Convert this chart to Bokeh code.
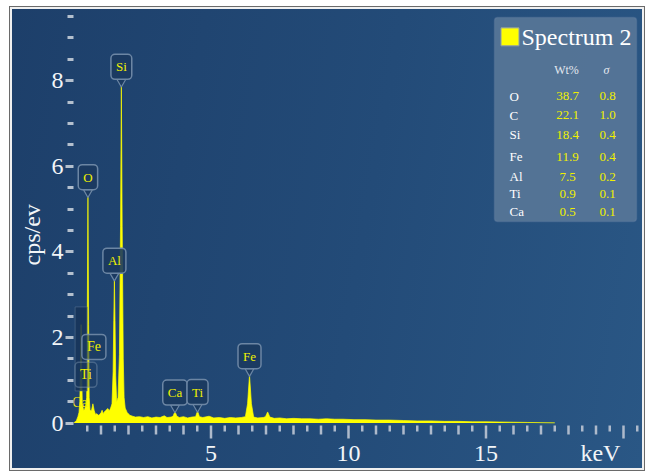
import numpy as np
from bokeh.plotting import figure
from bokeh.models import FixedTicker, BoxAnnotation, Range1d, Title
from bokeh.core.properties import value
from bokeh.embed import file_html
from bokeh.resources import INLINE

# ---------------- data ----------------
energy_kev = [0.00, 0.10, 0.16, 0.20, 0.23, 0.25, 0.277, 0.30, 0.32, 0.341, 0.37, 0.40,
              0.452, 0.48, 0.50, 0.525, 0.55, 0.57, 0.60, 0.65, 0.705, 0.75, 0.80, 0.85,
              0.90, 0.95, 1.00, 1.04, 1.08, 1.12, 1.18, 1.25, 1.30, 1.35, 1.40, 1.44,
              1.465, 1.487, 1.51, 1.535, 1.57, 1.62, 1.67, 1.71, 1.74, 1.77, 1.81, 1.84,
              1.88, 1.95, 2.05, 2.15, 2.25, 2.40, 2.55, 2.70, 2.85, 3.00, 3.15, 3.30,
              3.40, 3.55, 3.62, 3.69, 3.76, 3.85, 4.00, 4.15, 4.30, 4.44, 4.51, 4.58,
              4.70, 4.93, 5.10, 5.30, 5.50, 5.70, 5.90, 6.10, 6.25, 6.33, 6.40, 6.47,
              6.55, 6.70, 6.90, 6.98, 7.06, 7.14, 7.30, 7.50, 7.75, 8.00, 8.30, 8.60,
              8.90, 9.20, 9.50, 9.80, 10.20, 10.60, 11.00, 11.50, 12.00, 12.50, 13.00,
              13.50, 14.00, 14.50, 15.00, 15.50, 16.00, 16.50, 17.00, 17.50]
counts_cps_ev = [0.00, 0.05, 0.15, 0.25, 0.50, 1.20, 2.30, 1.10, 0.45, 0.38, 0.30, 0.32,
                 0.42, 0.60, 2.40, 5.30, 2.30, 0.60, 0.30, 0.28, 0.45, 0.30, 0.20, 0.22,
                 0.18, 0.20, 0.24, 0.30, 0.22, 0.26, 0.30, 0.34, 0.28, 0.35, 0.45, 1.20,
                 2.40, 3.35, 2.40, 1.10, 0.50, 0.60, 1.60, 4.60, 7.88, 4.60, 1.50, 0.60,
                 0.35, 0.25, 0.18, 0.16, 0.14, 0.15, 0.13, 0.15, 0.12, 0.14, 0.13, 0.17,
                 0.13, 0.14, 0.16, 0.27, 0.16, 0.13, 0.15, 0.12, 0.14, 0.15, 0.28, 0.15,
                 0.13, 0.16, 0.12, 0.13, 0.11, 0.13, 0.12, 0.13, 0.15, 0.45, 1.12, 0.45,
                 0.14, 0.12, 0.13, 0.15, 0.26, 0.14, 0.11, 0.12, 0.10, 0.11, 0.10, 0.10,
                 0.09, 0.10, 0.09, 0.09, 0.08, 0.08, 0.07, 0.07, 0.06, 0.05, 0.05,
                 0.04, 0.04, 0.03, 0.03, 0.025, 0.02, 0.015, 0.01, 0.005]

peak_names = ["O", "Si", "Al", "Ca", "Ti", "Fe"]
peak_energy = [0.525, 1.740, 1.487, 3.690, 4.510, 6.400]
peak_height = [5.30, 7.88, 3.35, 0.27, 0.28, 1.12]

l_names = ["Fe", "Ti", "Ca"]
l_energy = [0.705, 0.452, 0.341]
c_energy = 0.277

comp_elements = ["O", "C", "Si", "Fe", "Al", "Ti", "Ca"]
comp_wt = ["38.7", "22.1", "18.4", "11.9", "7.5", "0.9", "0.5"]
comp_sigma = ["0.8", "1.0", "0.4", "0.4", "0.2", "0.1", "0.1"]

y_major = [0, 2, 4, 6, 8]
x_labelled = [5, 10, 15]
x_unit_label = "keV"

# ---------------- layout helpers (page pixels -> data) ----------------
def dx(px):
    return (px - 73.0) / 27.5

def dy(py):
    return (424.5 - py) / 43.0

SERIF = "Liberation Serif"
TICK_COLOR = "#aebacb"

p = figure(width=630, height=459, output_backend="svg", toolbar_location=None,
           x_range=Range1d(0, dx(642)), y_range=Range1d(dy(441), dy(9)),
           min_border_left=61, min_border_right=0, min_border_top=0, min_border_bottom=27)
p.margin = (9, 0, 0, 12)
p.border_fill_color = None
p.background_fill_color = None
p.outline_line_color = None
p.grid.visible = False
p.styles = {
    "background": "linear-gradient(100deg, #1d3f6a 0%, #234b78 55%, #2a5785 100%)",
    "box-shadow": "0 0 0 2px #f0f0f0, 0 0 0 3px #6a6a6a",
}

# x axis: labels only (tick marks drawn below)
key_pos = round(dx(600), 2)
xa = p.xaxis[0]
xa.ticker = FixedTicker(ticks=x_labelled + [key_pos], minor_ticks=[])
xa.major_label_overrides = {key_pos: x_unit_label}
xa.axis_line_color = None
xa.major_tick_in = 0
xa.major_tick_out = 0
xa.minor_tick_in = 0
xa.minor_tick_out = 0
xa.major_label_standoff = 0
xa.major_label_text_font = SERIF
xa.major_label_text_font_size = "24px"
xa.major_label_text_color = "#f2f5f8"

# x tick marks: half steps short, integers medium, multiples of 5 long
half_ticks = list(np.arange(0.5, 20.6, 1.0))
int_ticks = [v for v in range(1, 21) if v % 5 != 0]
five_ticks = [5, 10, 15, 20]
for ticks, length in ((half_ticks, 6), (int_ticks, 9), (five_ticks, 13)):
    p.segment(x0=ticks, x1=ticks, y0=dy(427), y1=dy(427 + length),
              line_color=TICK_COLOR, line_width=2.5)

ya = p.yaxis[0]
ya.ticker = FixedTicker(ticks=y_major,
                        minor_ticks=[v for v in np.arange(0.5, 9.6, 0.5) if v not in y_major])
ya.axis_line_color = None
ya.major_tick_in = 0
ya.major_tick_out = 8
ya.minor_tick_in = 0
ya.minor_tick_out = 6
ya.major_tick_line_color = "#b4c0ce"
ya.minor_tick_line_color = "#b4c0ce"
ya.major_tick_line_width = 3
ya.minor_tick_line_width = 3
ya.major_label_standoff = 2
ya.major_label_text_font = SERIF
ya.major_label_text_font_size = "24px"
ya.major_label_text_color = "#f2f5f8"

p.add_layout(Title(text="cps/ev", align="left", offset=174, standoff=8,
                   text_font=SERIF, text_font_size="24px", text_font_style="normal",
                   text_color="#f2f5f8"), "left")

# spectrum
p.varea(x=energy_kev, y1=0, y2=counts_cps_ev, fill_color="#ffff00", fill_alpha=1.0)
p.line(x=energy_kev, y=counts_cps_ev, line_color="#ffff00", line_width=1, line_alpha=0.7)

# hidden C label box
p.rect(x=[c_energy], y=[dy(350)], width=12, height=84, width_units="screen",
       height_units="screen", fill_color="#173459", fill_alpha=0.85,
       line_color="#55708f", line_alpha=0.6)

# L-line labels
p.text(x=l_energy, y=[dy(348), dy(376), dy(404)], text=l_names, text_align="center",
       text_baseline="middle", x_offset=[1, 0, -3], text_font=value(SERIF), text_font_size="14px",
       text_color="#f0f000", background_fill_color="#1b3a5f",
       background_fill_alpha=[0.6, 0.35, 0.0], border_line_color="#7d95b0",
       border_line_alpha=[0.8, 0.45, 0.0], border_line_width=1.5, padding=5, border_radius=4)

# peak labels with pointers
p.scatter(x=peak_energy, y=[h + 4.0 / 43.0 for h in peak_height], marker="inverted_triangle",
          size=9, fill_color="#1b3a5f", fill_alpha=0.9, line_color="#6c86a4", line_width=1.2)
p.text(x=peak_energy, y=peak_height, text=peak_names, y_offset=-19, text_align="center",
       text_baseline="middle", text_font=value(SERIF), text_font_size="13px",
       text_color="#f0f000", background_fill_color="#1b3a5f", background_fill_alpha=0.9,
       border_line_color="#6c86a4", border_line_width=1.5, padding=5, border_radius=4)

# legend panel
p.add_layout(BoxAnnotation(left=dx(494), right=dx(636), top=dy(17), bottom=dy(222),
                           fill_color="#557597", fill_alpha=0.95, line_color="#7089a8",
                           line_width=1.5, border_radius=3, level="underlay"))
p.scatter(x=[dx(509.5)], y=[dy(36.5)], marker="square", size=18, fill_color="#ffff00",
          line_color="#8a9ab0", line_width=1)
p.text(x=[dx(521)], y=[dy(37)], text=["Spectrum 2"], text_font=value(SERIF),
       text_font_size="24px", text_color="#ffffff", text_baseline="middle", text_align="left")
p.text(x=[dx(566)], y=[dy(70)], text=["Wt%"], text_font=value(SERIF), text_font_size="12px",
       text_color="#e4e9f0", text_baseline="middle", text_align="center")
p.text(x=[dx(606)], y=[dy(70)], text=["σ"], text_font=value(SERIF), text_font_size="12px",
       text_font_style="italic", text_color="#e4e9f0", text_baseline="middle", text_align="center")

row_y = [dy(v) for v in [96, 115, 135, 157, 177, 194, 212]]
p.text(x=[dx(509)] * len(comp_elements), y=row_y, text=comp_elements, text_font=value(SERIF),
       text_font_size="13px", text_color="#ffffff", text_baseline="middle", text_align="left")
p.text(x=[dx(567)] * len(comp_wt), y=row_y, text=comp_wt, text_font=value(SERIF),
       text_font_size="13px", text_color="#f0f000", text_baseline="middle", text_align="center")
p.text(x=[dx(607)] * len(comp_sigma), y=row_y, text=comp_sigma, text_font=value(SERIF),
       text_font_size="13px", text_color="#f0f000", text_baseline="middle", text_align="center")

open("out.html", "w").write(file_html(p, INLINE))
